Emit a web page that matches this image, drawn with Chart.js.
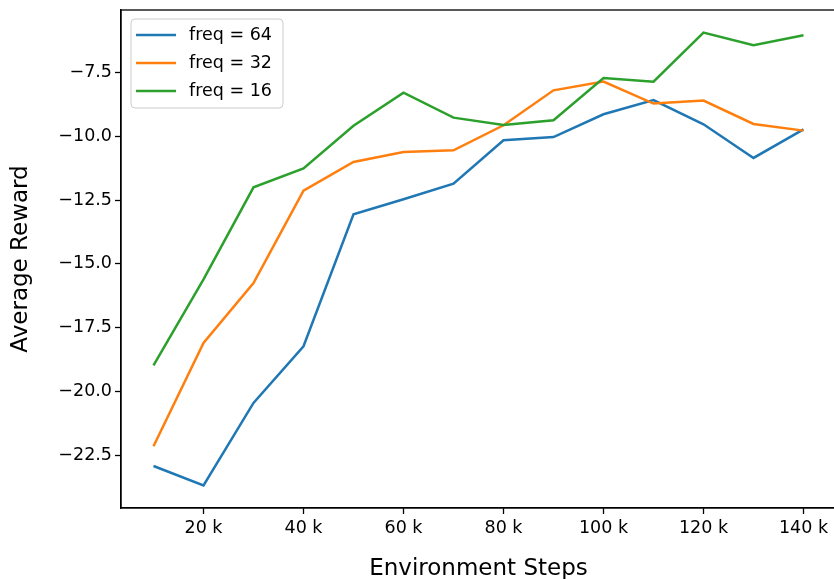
<!DOCTYPE html>
<html>
<head>
<meta charset="utf-8">
<script src="https://cdn.jsdelivr.net/npm/chart.js@4.4.1/dist/chart.umd.min.js"></script>
<style>
  html, body { margin: 0; padding: 0; background: #fff; overflow: hidden; }
  canvas { display: block; }
</style>
</head>
<body>
<canvas id="rewardChart" width="840" height="579"></canvas>
<script>
// environment steps (x) and average reward per update frequency
const steps = [10000, 20000, 30000, 40000, 50000, 60000, 70000, 80000, 90000, 100000, 110000, 120000, 130000, 140000];
const freq64 = [-22.92, -23.68, -20.45, -18.23, -13.06, -12.47, -11.86, -10.16, -10.03, -9.14, -8.58, -9.53, -10.85, -9.73];
const freq32 = [-22.15, -18.10, -15.75, -12.13, -11.01, -10.62, -10.55, -9.57, -8.20, -7.86, -8.72, -8.60, -9.52, -9.78];
const freq16 = [-18.98, -15.61, -12.00, -11.26, -9.59, -8.29, -9.27, -9.56, -9.37, -7.72, -7.86, -5.94, -6.43, -6.04];
const seriesLabels = ['freq = 64', 'freq = 32', 'freq = 16'];
const seriesColors = ['#1f77b4', '#ff7f0e', '#2ca02c'];
const xTicks = [20000, 40000, 60000, 80000, 100000, 120000, 140000];
const yTicks = [-22.5, -20.0, -17.5, -15.0, -12.5, -10.0, -7.5];

const allY = freq64.concat(freq32, freq16);
const yLo = Math.min(...allY), yHi = Math.max(...allY);
const yPad = (yHi - yLo) * 0.05;
const xPad = (steps[steps.length - 1] - steps[0]) * 0.05;

const toPoints = vals => vals.map((v, i) => ({x: steps[i], y: v}));

Chart.defaults.font.family = 'DejaVu Sans';
Chart.defaults.color = '#000';

// matplotlib style frame + legend box
const framePlugin = {
    id: 'frame',
    afterDraw(chart) {
        const {ctx, chartArea: a} = chart;
        ctx.save();
        ctx.strokeStyle = '#000';
        ctx.lineWidth = 1.3;
        ctx.strokeRect(a.left, a.top, a.right - a.left, a.bottom - a.top);

        const lx = a.left + 10, ly = a.top + 9, lw = 152, lh = 89;
        ctx.beginPath();
        ctx.roundRect(lx, ly, lw, lh, 4);
        ctx.fillStyle = 'rgba(255,255,255,0.8)';
        ctx.fill();
        ctx.strokeStyle = '#cccccc';
        ctx.lineWidth = 1;
        ctx.stroke();

        ctx.font = '17.5px "DejaVu Sans"';
        ctx.textBaseline = 'middle';
        ctx.textAlign = 'left';
        chart.data.datasets.forEach((ds, i) => {
            const y = ly + 16 + i * 28;
            ctx.strokeStyle = ds.borderColor;
            ctx.lineWidth = 2.5;
            ctx.beginPath();
            ctx.moveTo(lx + 5, y);
            ctx.lineTo(lx + 45, y);
            ctx.stroke();
            ctx.fillStyle = '#000';
            ctx.fillText(ds.label, lx + 58, y);
        });
        ctx.restore();
    }
};

const tickGrid = {display: true, drawOnChartArea: false, tickLength: 6, tickColor: '#000', tickWidth: 1.3};

const ctx = document.getElementById('rewardChart').getContext('2d');
new Chart(ctx, {
    type: 'line',
    data: {
        datasets: [
            {label: seriesLabels[0], data: toPoints(freq64), borderColor: seriesColors[0], order: 3},
            {label: seriesLabels[1], data: toPoints(freq32), borderColor: seriesColors[1], order: 2},
            {label: seriesLabels[2], data: toPoints(freq16), borderColor: seriesColors[2], order: 1}
        ]
    },
    options: {
        responsive: false,
        animation: false,
        devicePixelRatio: 1,
        layout: {padding: {left: 0, top: 10, right: 4, bottom: 0}},
        elements: {
            line: {borderWidth: 2.5, tension: 0, fill: false},
            point: {radius: 0}
        },
        plugins: {
            legend: {display: false},
            tooltip: {enabled: false}
        },
        scales: {
            x: {
                type: 'linear',
                min: steps[0] - xPad,
                max: steps[steps.length - 1] + xPad,
                grid: tickGrid,
                border: {display: true, color: '#000', width: 1.3},
                ticks: {
                    autoSkip: false,
                    padding: 4,
                    maxRotation: 0,
                    font: {size: 17.5},
                    callback: v => (v / 1000) + ' k'
                },
                afterBuildTicks(scale) {
                    scale.ticks = xTicks.map(v => ({value: v}));
                },
                title: {display: true, text: 'Environment Steps', font: {size: 23, lineHeight: 1}, padding: {top: 0, bottom: -2}},
                afterFit(scale) {
                    scale.height = 71;
                    scale.paddingLeft = 0;
                    scale.paddingRight = 0;
                }
            },
            y: {
                type: 'linear',
                min: yLo - yPad,
                max: yHi + yPad,
                grid: tickGrid,
                border: {display: true, color: '#000', width: 1.3},
                ticks: {
                    autoSkip: false,
                    padding: 3,
                    font: {size: 17.5},
                    callback: v => (v < 0 ? '\u2212' : '') + Math.abs(v).toFixed(1)
                },
                afterBuildTicks(scale) {
                    scale.ticks = yTicks.map(v => ({value: v}));
                },
                title: {display: true, text: 'Average Reward', font: {size: 23, lineHeight: 1}, padding: {top: 10, bottom: 0}},
                afterFit(scale) {
                    scale.width = 121;
                    scale.paddingTop = 0;
                    scale.paddingBottom = 0;
                }
            }
        }
    },
    plugins: [framePlugin]
});
</script>
</body>
</html>
